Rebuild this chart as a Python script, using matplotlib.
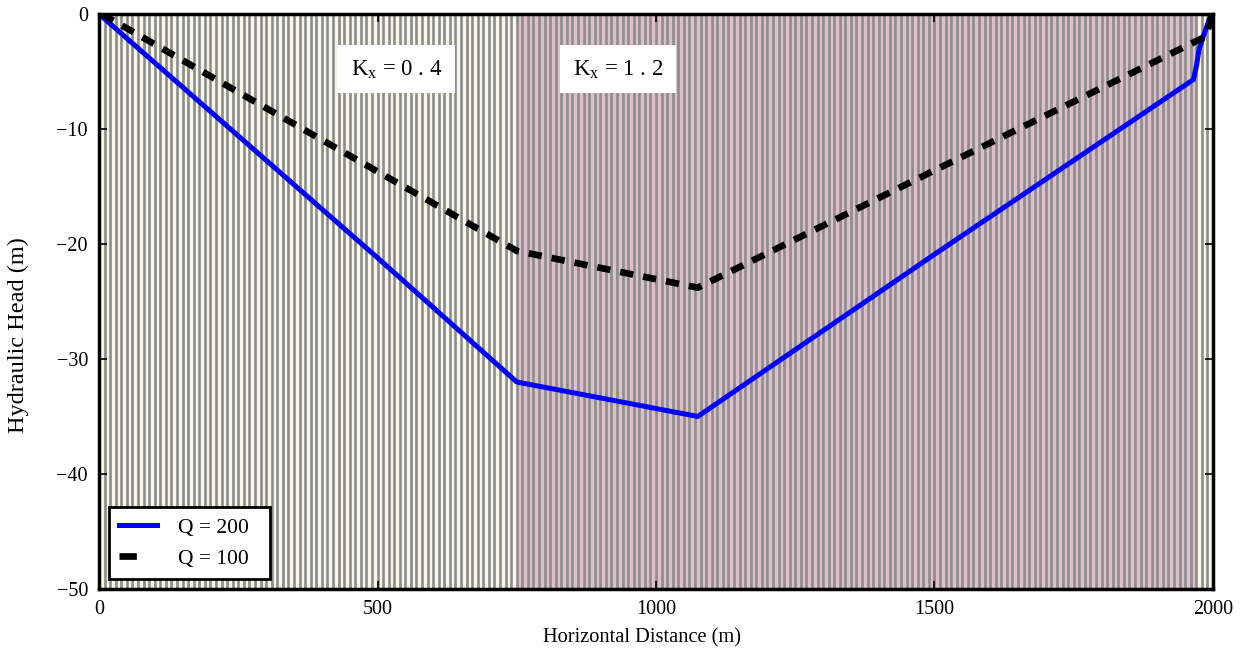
import numpy as np
import matplotlib.pyplot as plt
from matplotlib.lines import Line2D

# --- data ---
zone_edges = [0, 750, 1970, 2000]
zone_colors = ['#f8f7e8', '#dcbfcb', '#f8f7e8']
zone_labels = ['K$_\\mathrm{x}$ = 0 . 4', 'K$_\\mathrm{x}$ = 1 . 2']
zone_label_x = [534, 932]
cell_width = 10

q200_x = [0, 250, 500, 750, 1075, 1500, 1965, 1970, 1975, 1985, 1995, 2000]
q200_h = [0, -10.6, -21.2, -32.0, -35.0, -20.9, -5.7, -4.6, -3.1, -1.6, -0.3, 0]

q100_x = [5, 250, 500, 750, 1075, 1500, 1985, 1995, 1998]
q100_h = [0, -6.8, -13.7, -20.6, -23.8, -13.6, -2.0, -0.8, 0]

plt.rcParams['font.family'] = ['Liberation Serif', 'DejaVu Serif']
plt.rcParams['mathtext.fontset'] = 'custom'
plt.rcParams['mathtext.rm'] = 'Liberation Serif'

fig = plt.figure(figsize=(12.41, 6.6), dpi=100)
ax = fig.add_axes([0.0798, 0.1076, 0.8976, 0.8712])

# model grid zones
for i in range(len(zone_colors)):
    ax.axvspan(zone_edges[i], zone_edges[i + 1], color=zone_colors[i], lw=0, zorder=0)
cell_edges = np.arange(zone_edges[0], zone_edges[-1] + cell_width, cell_width)
ax.vlines(cell_edges, -50, 0, colors='#8c8c8c', lw=1.9, zorder=1)

ax.plot(q200_x, q200_h, color='#0000ff', lw=3.6, zorder=3)
ax.plot(q100_x, q100_h, color='black', lw=4.8, dashes=(2.0, 1.5), zorder=3)

for lx, lab in zip(zone_label_x, zone_labels):
    ax.text(lx, -4.8, lab, ha='center', va='center', fontsize=16.5, zorder=4,
            bbox=dict(boxstyle='square,pad=0.55', fc='white', ec='none'))

handles = [Line2D([], [], color='#0000ff', lw=3.6),
           Line2D([], [], color='black', lw=4.8, dashes=(2.6, 8))]
leg = ax.legend(handles, ['Q = 200  ', 'Q = 100  '], loc='lower left', fontsize=15.5,
                fancybox=False, framealpha=1, edgecolor='black',
                borderaxespad=0.45, handlelength=1.75, handletextpad=0.95,
                borderpad=0.5, labelspacing=0.5)
leg.get_frame().set_linewidth(2)

ax.set_xlim(0, 2000)
ax.set_ylim(-50, 0)
ax.set_xticks([0, 500, 1000, 1500, 2000])
ax.set_yticks([0, -10, -20, -30, -40, -50])
ax.tick_params(direction='in', top=True, right=True, length=6, width=1.2,
               labelsize=14.5, pad=8)
for s in ax.spines.values():
    s.set_linewidth(2.5)
    s.set_zorder(5)
ax.set_xlabel('Horizontal Distance (m)', fontsize=14.7)
ax.set_ylabel('Hydraulic Head (m)', fontsize=17.5)
ax.xaxis.set_label_coords(0.487, -0.068)
ax.yaxis.set_label_coords(-0.063, 0.442)

fig.savefig('out.png', dpi=100)
